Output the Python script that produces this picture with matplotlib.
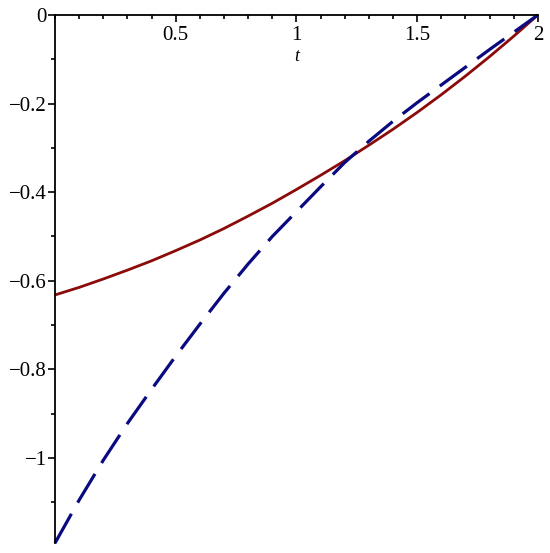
import matplotlib
matplotlib.use("Agg")
import matplotlib.pyplot as plt
from matplotlib.ticker import MultipleLocator

# values
t = [0.0, 0.1, 0.2, 0.3, 0.4, 0.5, 0.6, 0.7, 0.8, 0.9, 1.0,
     1.1, 1.2, 1.3, 1.4, 1.5, 1.6, 1.7, 1.8, 1.9, 2.0]
red_y = [-0.632, -0.615, -0.596, -0.576, -0.555, -0.532, -0.508, -0.482, -0.454, -0.425, -0.394,
         -0.362, -0.329, -0.294, -0.258, -0.220, -0.180, -0.138, -0.094, -0.048, 0.0]
blue_y = [-1.192, -1.095, -1.005, -0.922, -0.845, -0.770, -0.698, -0.628, -0.562, -0.500, -0.444,
          -0.388, -0.333, -0.285, -0.240, -0.198, -0.158, -0.118, -0.078, -0.039, 0.0]
xticks = [0.5, 1, 1.5, 2]
xlabels = ["0.5", "1", "1.5", "2"]
yticks = [-1, -0.8, -0.6, -0.4, -0.2, 0]
ylabels = ["\u22121", "\u22120.8", "\u22120.6", "\u22120.4", "\u22120.2", "0"]

plt.rcParams['font.family'] = ['Liberation Serif', 'DejaVu Serif']

fig = plt.figure(figsize=(5.5, 5.53), dpi=100)
ax = fig.add_axes([0.1, 0.018, 0.878, 0.955])

ax.plot(t, red_y, color='#8b0a0a', lw=2.0, solid_capstyle='butt', clip_on=False)
ax.plot(t, blue_y, color='#0a0a80', lw=2.3, dashes=(10.5, 4), clip_on=False)

ax.set_xlim(0, 2)
ax.set_ylim(-1.192, 0)

ax.spines['top'].set_visible(False)
ax.spines['right'].set_visible(False)
ax.spines['bottom'].set_position(('data', 0))
ax.spines['bottom'].set_linewidth(1.3)
ax.spines['left'].set_linewidth(1.3)

ax.set_xticks(xticks)
ax.set_xticklabels(xlabels)
ax.set_yticks(yticks)
ax.set_yticklabels(ylabels)
ax.xaxis.set_minor_locator(MultipleLocator(0.1))
ax.yaxis.set_minor_locator(MultipleLocator(0.1))
ax.tick_params(which='both', direction='out', width=1.2, labelsize=15)
ax.tick_params(which='major', length=5)
ax.tick_params(which='minor', length=3)
ax.tick_params(axis='x', pad=3)
ax.tick_params(axis='y', pad=1)

ax.set_xlabel('t', fontsize=13, style='italic', labelpad=2)

fig.savefig('out.png', dpi=100)
